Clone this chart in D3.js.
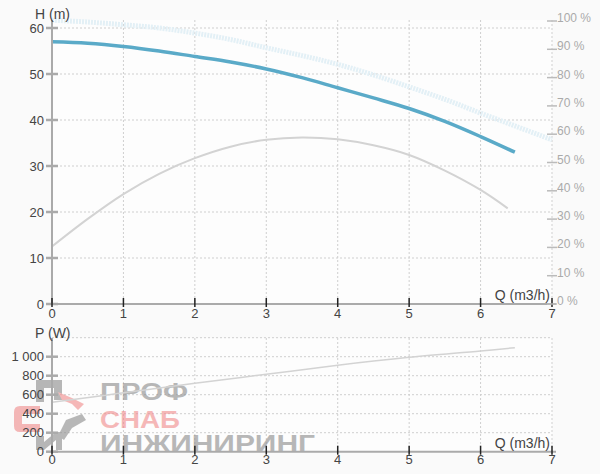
<!DOCTYPE html>
<html><head><meta charset="utf-8">
<script src="https://cdn.jsdelivr.net/npm/d3@7"></script>
<style>body{margin:0;background:#fafafa}svg{display:block}text{font-family:"Liberation Sans",Arial,sans-serif}</style>
</head><body><svg id="c" width="600" height="474"></svg>
<script>
// Data
const qTicks = [0,1,2,3,4,5,6,7];
const hTicks = [0,10,20,30,40,50,60];
const pctTicks = [0,10,20,30,40,50,60,70,80,90,100];
const pTicks = [0,200,400,600,800,1000];
const pTickLabels = ["0","200","400","600","800","1 000"];
const headQ = [0,0.5,1,1.5,2,2.5,3,3.5,4,4.5,5,5.5,6,6.48];
const headH = [57,56.7,56,55,53.8,52.6,51.1,49.2,47.0,44.8,42.5,39.7,36.4,33];
const maxQ = [0,0.5,1,1.5,2,2.5,3,3.5,4,4.5,5,5.5,6,6.5,7];
const maxH = [61.7,61.3,60.7,60,58.9,57.5,55.7,54,52.1,49.8,47.2,44.5,41.5,38.6,35.7];
const effQ = [0,0.5,1,1.5,2,2.5,3,3.5,4,4.5,5,5.5,6,6.38];
const effH = [12.5,18.5,23.9,28.3,31.7,34.2,35.7,36.2,35.8,34.5,32.4,29,24.8,20.8];
const powQ = [0,1,2,3,4,5,6,6.48];
const powP = [520,620,720,815,910,993,1060,1095];

const svg = d3.select("#c");
const x = d3.scaleLinear().domain([0,7]).range([52,552]);
const yH = d3.scaleLinear().domain([0,60]).range([304,28]);
const yPct = d3.scaleLinear().domain([0,100]).range([304,21]);
const yP = d3.scaleLinear().domain([0,1000]).range([451.7,356.7]);

function panel(top, bottom, y, gridVals){
  svg.append("rect").attr("x",52).attr("y",top).attr("width",500).attr("height",bottom-top).attr("fill","#fdfdfd");
  svg.append("g").selectAll("line").data(gridVals).join("line")
    .attr("x1",52).attr("x2",552).attr("y1",d=>y(d)).attr("y2",d=>y(d))
    .attr("stroke","#cfcfcf").attr("stroke-dasharray","2,2");
  svg.append("g").selectAll("line").data(qTicks.slice(1)).join("line")
    .attr("x1",d=>x(d)).attr("x2",d=>x(d)).attr("y1",top).attr("y2",bottom)
    .attr("stroke","#cfcfcf").attr("stroke-dasharray","2,2");
}

panel(20,304,yH,[10,20,30,40,50,60]);
panel(338,451.7,yP,[200,400,600,800,1000,1200]);

// watermark
const wm = svg.append("g").attr("opacity",0.6);
wm.append("path").attr("d","M36,380 H62 V400 H54 V388 H44 V402 H36 Z").attr("fill","#8a8a8a");
wm.append("path").attr("d","M40,406 H20 Q14,406 14,412 V426 Q14,432 20,432 H40 V424 H22 V414 H40 Z").attr("fill","#f08a8a");
wm.append("path").attr("d","M36,436 V450 H44 L56,440 V450 H62 V432 H56 L44,442 V436 Z").attr("fill","#8a8a8a");
wm.append("path").attr("d","M58,392 L72,398 L84,404 L78,410 L72,404 L62,400 Z").attr("fill","#f08a8a");
wm.append("path").attr("d","M66,420 L82,414 L86,420 L72,428 L64,440 L58,436 Z").attr("fill","#8a8a8a");
wm.append("text").attr("x",100).attr("y",400).attr("font-size",24).attr("font-weight","bold")
  .attr("textLength",88).attr("lengthAdjust","spacingAndGlyphs").attr("fill","#8a8a8a").attr("font-family","DejaVu Sans").text("ПРОФ");
wm.append("text").attr("x",100).attr("y",428).attr("font-size",24).attr("font-weight","bold")
  .attr("textLength",80).attr("lengthAdjust","spacingAndGlyphs").attr("fill","#f08a8a").attr("font-family","DejaVu Sans").text("СНАБ");
wm.append("text").attr("x",100).attr("y",452).attr("font-size",24).attr("font-weight","bold")
  .attr("textLength",215).attr("lengthAdjust","spacingAndGlyphs").attr("fill","#8a8a8a").attr("font-family","DejaVu Sans").text("ИНЖИНИРИНГ");

// curves
const lineH = (qs,hs,ys)=>d3.line().x((d,i)=>x(qs[i])).y((d,i)=>ys(hs[i])).curve(d3.curveCatmullRom)(qs);
svg.append("path").attr("d",lineH(maxQ,maxH,yH)).attr("fill","none").attr("stroke","#e3f0f6").attr("stroke-width",5).attr("stroke-dasharray","2,1");
svg.append("path").attr("d",lineH(effQ,effH,yH)).attr("fill","none").attr("stroke","#d3d3d3").attr("stroke-width",2);
svg.append("path").attr("d",lineH(headQ,headH,yH)).attr("fill","none").attr("stroke","#5aaac8").attr("stroke-width",3.5);
svg.append("path").attr("d",lineH(powQ,powP,yP)).attr("fill","none").attr("stroke","#d3d3d3").attr("stroke-width",1.5);

function leftAxis(y, ticks, labels, top, bottom){
  svg.append("line").attr("x1",52).attr("x2",52).attr("y1",top).attr("y2",bottom).attr("stroke","#aaa").attr("stroke-width",2);
  const g = svg.append("g");
  g.selectAll("line").data(ticks).join("line").attr("x1",46).attr("x2",58)
    .attr("y1",d=>y(d)).attr("y2",d=>y(d)).attr("stroke","#aaa").attr("stroke-width",2.5);
  g.selectAll("text").data(ticks).join("text").attr("x",44).attr("y",d=>y(d)+4.5)
    .attr("text-anchor","end").attr("font-size",13).attr("fill","#444").text((d,i)=>labels[i]);
}
leftAxis(yH,hTicks,hTicks.map(String),20,304);
leftAxis(yP,pTicks,pTickLabels,338,451.7);

function bottomAxis(yy, labelY){
  svg.append("line").attr("x1",52).attr("x2",556).attr("y1",yy).attr("y2",yy).attr("stroke","#aaa").attr("stroke-width",2);
  const g = svg.append("g");
  g.selectAll("line").data(qTicks).join("line").attr("x1",d=>x(d)).attr("x2",d=>x(d))
    .attr("y1",yy-6).attr("y2",yy+3).attr("stroke","#222").attr("stroke-width",1.5);
  g.selectAll("text").data(qTicks).join("text").attr("x",d=>x(d)).attr("y",labelY)
    .attr("text-anchor","middle").attr("font-size",13).attr("fill","#444").text(d=>d);
  svg.append("text").attr("x",550).attr("y",yy-4).attr("text-anchor","end").attr("font-size",14).attr("fill","#444").text("Q (m3/h)");
}
bottomAxis(304,318);
bottomAxis(451.7,464);

const rg = svg.append("g");
rg.selectAll("line").data(pctTicks).join("line").attr("x1",547).attr("x2",557)
  .attr("y1",d=>yPct(d)).attr("y2",d=>yPct(d)).attr("stroke","#bbb").attr("stroke-width",1.5);
rg.selectAll("text").data(pctTicks).join("text").attr("x",557).attr("y",d=>yPct(d)+1)
  .attr("font-size",12).attr("fill","#aaa").text(d=>d+" %");

svg.append("text").attr("x",35).attr("y",19).attr("font-size",14).attr("fill","#444").text("H (m)");
svg.append("text").attr("x",35).attr("y",338).attr("font-size",14).attr("fill","#444").text("P (W)");
</script></body></html>
